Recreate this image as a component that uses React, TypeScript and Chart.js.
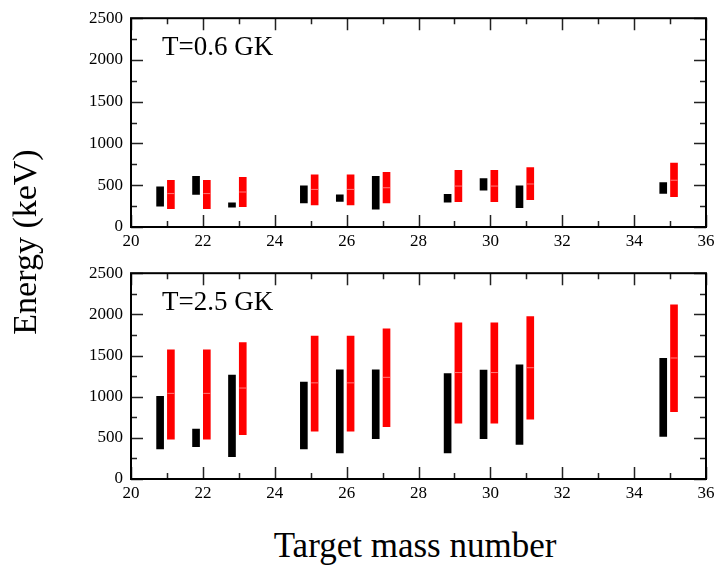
import React, { useEffect, useRef } from "react";
import { Chart, registerables } from "chart.js";

Chart.register(...registerables);

// ---- data ----
const masses = [21, 22, 23, 25, 26, 27, 29, 30, 31, 35];

// T = 0.6 GK
const black06Lo = [250, 390, 236, 288, 306, 212, 296, 440, 230, 402];
const black06Hi = [480, 608, 290, 492, 385, 608, 392, 580, 492, 532];
const red06Lo = [220, 220, 242, 265, 265, 288, 304, 304, 327, 362];
const red06Hi = [558, 558, 594, 625, 625, 654, 680, 680, 711, 765];
const red06Peak = [400, 400, 419, 450, 450, 470, 490, 490, 515, 560];

// T = 2.5 GK
const black25Lo = [365, 392, 270, 365, 318, 489, 318, 489, 419, 518];
const black25Hi = [1003, 605, 1262, 1178, 1327, 1327, 1282, 1322, 1387, 1466];
const red25Lo = [485, 485, 540, 581, 581, 636, 679, 679, 728, 819];
const red25Hi = [1570, 1570, 1658, 1737, 1737, 1825, 1897, 1897, 1972, 2117];
const red25Peak = [1040, 1040, 1105, 1168, 1168, 1235, 1293, 1293, 1352, 1470];

const xMin = 20;
const xMax = 36;
const xStep = 2;
const yMin = 0;
const yMax = 2500;
const yStep = 500;

const BLACK_SHIFT = -0.19;
const RED_SHIFT = 0.11;

const SERIF = "Liberation Serif";

interface PanelProps {
  top: number;
  height: number;
  padTop: number;
  xHeight: number;
  label: string;
  labelBaseline: number;
  blackLo: number[];
  blackHi: number[];
  redLo: number[];
  redHi: number[];
  redPeak: number[];
}

function Panel(props: PanelProps) {
  const ref = useRef<HTMLCanvasElement | null>(null);

  useEffect(() => {
    if (!ref.current) return;
    const frame = {
      id: "frameTicks",
      afterDatasetsDraw(chart: any) {
        const { ctx, chartArea, scales } = chart;
        const { left, right, top, bottom } = chartArea;
        const x = scales.x;
        const y = scales.y;
        ctx.save();
        ctx.strokeStyle = "#222";
        ctx.lineWidth = 1.5;
        ctx.beginPath();
        for (let v = xMin; v <= xMax; v += 1) {
          const px = Math.round(x.getPixelForValue(v)) + 0.5;
          const len = v % 2 === 0 ? 12 : 6;
          ctx.moveTo(px, bottom);
          ctx.lineTo(px, bottom - len);
          ctx.moveTo(px, top);
          ctx.lineTo(px, top + len);
        }
        for (let v = yMin; v <= yMax; v += 250) {
          const py = Math.round(y.getPixelForValue(v)) + 0.5;
          const len = v % 500 === 0 ? 12 : 6;
          ctx.moveTo(left, py);
          ctx.lineTo(left + len, py);
          ctx.moveTo(right, py);
          ctx.lineTo(right - len, py);
        }
        ctx.stroke();
        ctx.strokeStyle = "#000";
        ctx.lineWidth = 2;
        ctx.strokeRect(left, top, right - left, bottom - top);
        ctx.fillStyle = "#000";
        ctx.font = `27px "${SERIF}", serif`;
        ctx.textBaseline = "alphabetic";
        ctx.textAlign = "left";
        ctx.fillText(props.label, 162, props.labelBaseline);
        ctx.restore();
      },
    };

    const chart = new Chart(ref.current, {
      type: "bar",
      data: {
        datasets: [
          {
            type: "scatter",
            data: masses.map((m, i) => ({ x: m + RED_SHIFT, y: props.redPeak[i] })),
            pointStyle: "line",
            radius: 3.5,
            borderColor: "rgba(255,120,120,1)",
            borderWidth: 1,
            backgroundColor: "rgba(255,120,120,1)",
          } as any,
          {
            data: masses.map((m, i) => ({ x: m + BLACK_SHIFT, y: [props.blackLo[i], props.blackHi[i]] })),
            backgroundColor: "#000",
            barThickness: 7,
            grouped: false,
            borderWidth: 0,
          } as any,
          {
            data: masses.map((m, i) => ({ x: m + RED_SHIFT, y: [props.redLo[i], props.redHi[i]] })),
            backgroundColor: "#ff0000",
            barThickness: 7,
            grouped: false,
            borderWidth: 0,
          } as any,
        ],
      },
      options: {
        animation: false,
        responsive: false,
        devicePixelRatio: 1,
        layout: { padding: { left: 0, right: 13, top: props.padTop, bottom: 0 } },
        plugins: { legend: { display: false }, tooltip: { enabled: false } },
        scales: {
          x: {
            type: "linear",
            min: xMin,
            max: xMax,
            offset: false,
            grid: { display: false, drawTicks: false, offset: false },
            border: { display: false },
            ticks: {
              stepSize: xStep,
              padding: 4,
              color: "#000",
              font: { family: SERIF, size: 17 },
              maxRotation: 0,
              callback: (v: any) => String(v),
            },
            afterFit: (s: any) => {
              s.height = props.xHeight;
            },
          },
          y: {
            type: "linear",
            min: yMin,
            max: yMax,
            grid: { display: false, drawTicks: false },
            border: { display: false },
            ticks: {
              stepSize: yStep,
              padding: 8,
              color: "#000",
              font: { family: SERIF, size: 17 },
              callback: (v: any) => String(v),
            },
            afterFit: (s: any) => {
              s.width = 131;
            },
          },
        },
      } as any,
      plugins: [frame],
    });
    return () => chart.destroy();
  }, []);

  return (
    <canvas
      ref={ref}
      width={719}
      height={props.height}
      style={{ position: "absolute", left: 0, top: props.top, width: 719, height: props.height }}
    />
  );
}

export default function App() {
  return (
    <div
      style={{
        position: "absolute",
        left: 0,
        top: 0,
        width: 719,
        height: 569,
        background: "#fff",
        overflow: "hidden",
        fontFamily: `"${SERIF}", serif`,
      }}
    >
      <Panel
        top={0}
        height={255}
        padTop={11}
        xHeight={28}
        label="T=0.6 GK"
        labelBaseline={55}
        blackLo={black06Lo}
        blackHi={black06Hi}
        redLo={red06Lo}
        redHi={red06Hi}
        redPeak={red06Peak}
      />
      <Panel
        top={255}
        height={260}
        padTop={12}
        xHeight={36}
        label="T=2.5 GK"
        labelBaseline={55}
        blackLo={black25Lo}
        blackHi={black25Hi}
        redLo={red25Lo}
        redHi={red25Hi}
        redPeak={red25Peak}
      />
      <div
        style={{
          position: "absolute",
          left: 215,
          top: 528,
          width: 400,
          height: 35,
          lineHeight: "35px",
          fontSize: 35,
          textAlign: "center",
          color: "#000",
          whiteSpace: "nowrap",
        }}
      >
        Target mass number
      </div>
      <div
        style={{
          position: "absolute",
          left: -125,
          top: 225,
          width: 300,
          height: 34,
          lineHeight: "34px",
          fontSize: 34,
          textAlign: "center",
          color: "#000",
          whiteSpace: "nowrap",
          transform: "rotate(-90deg)",
        }}
      >
        Energy (keV)
      </div>
    </div>
  );
}
